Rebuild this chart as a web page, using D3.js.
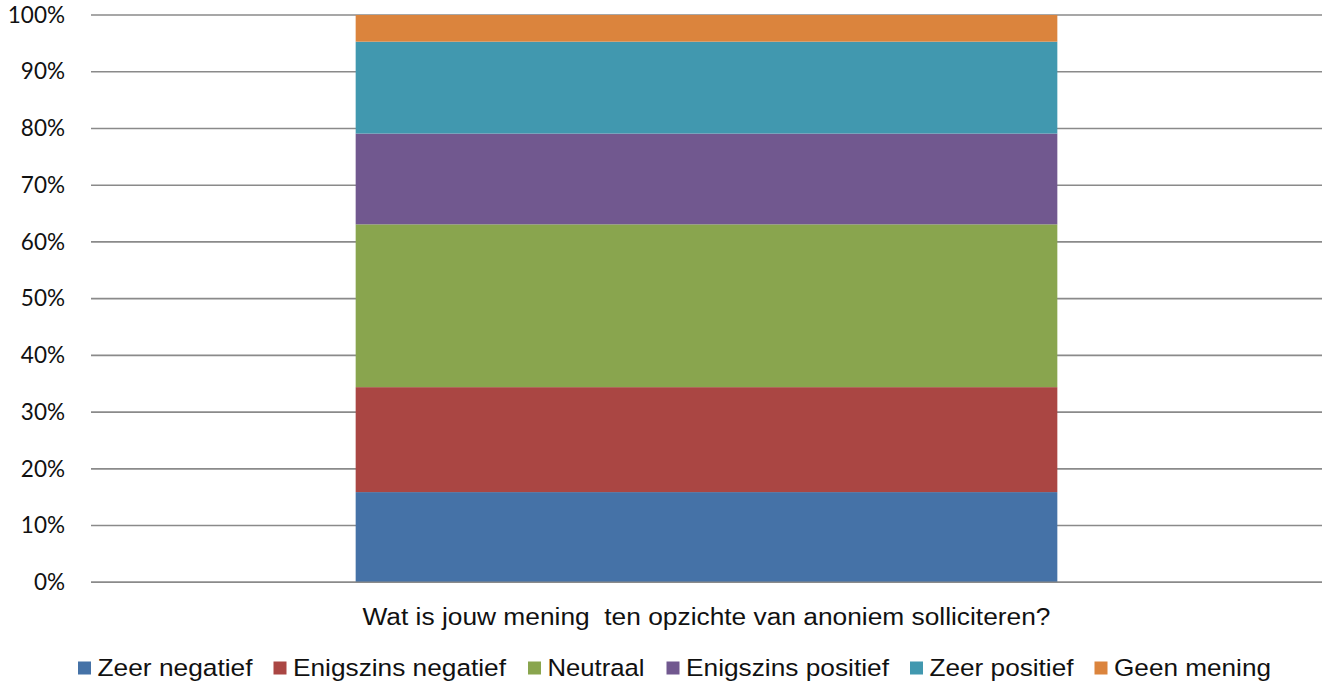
<!DOCTYPE html>
<html>
<head>
<meta charset="utf-8">
<script src="https://cdn.jsdelivr.net/npm/d3@7"></script>
<style>
  html, body { margin: 0; padding: 0; background: #fff; }
  svg { display: block; }
</style>
</head>
<body>
<svg id="chart" width="1324" height="684"></svg>
<script>
// Survey answers, share of respondents (%)
const categories = ["Wat is jouw mening\u00A0\u00A0ten opzichte van anoniem solliciteren?"];
const seriesNames = ["Zeer negatief", "Enigszins negatief", "Neutraal", "Enigszins positief", "Zeer positief", "Geen mening"];
const seriesValues = [15.9, 18.5, 28.7, 16.0, 16.2, 4.7];
const seriesColors = ["#4572A7", "#AA4643", "#89A54E", "#71588F", "#4198AF", "#DB843D"];
const tickValues = [0, 10, 20, 30, 40, 50, 60, 70, 80, 90, 100];

const svg = d3.select("#chart");
const margin = { left: 91, right: 2, top: 15, bottom: 101.7 };
const W = 1324, H = 684;
const plotW = W - margin.left - margin.right;
const plotH = H - margin.top - margin.bottom;

const g = svg.append("g").attr("transform", `translate(${margin.left},${margin.top})`);

const y = d3.scaleLinear().domain([0, 100]).range([plotH, 0]);
const x = d3.scaleBand().domain(categories).range([0, plotW]).paddingInner(0.43).paddingOuter(0.215);

// Gridlines
g.append("g")
  .selectAll("line")
  .data(tickValues)
  .join("line")
  .attr("x1", 0).attr("x2", plotW)
  .attr("y1", d => y(d)).attr("y2", d => y(d))
  .attr("stroke", "#8a8a8a")
  .attr("stroke-width", 1.6);

// Y axis labels
const yAxis = d3.axisLeft(y).tickValues(tickValues).tickFormat(d => d + "%").tickSize(0).tickPadding(26);
const ya = g.append("g").call(yAxis);
ya.select(".domain").remove();
ya.selectAll("text")
  .attr("font-family", "Lato, 'Open Sans', sans-serif")
  .attr("font-size", 22.5)
  .attr("fill", "#111");

// Stacked bar
const row = {};
seriesNames.forEach((n, i) => row[n] = seriesValues[i]);
const stack = d3.stack().keys(seriesNames)([row]);
const barX = x(categories[0]);
g.append("g")
  .selectAll("rect")
  .data(stack)
  .join("rect")
  .attr("x", barX)
  .attr("width", x.bandwidth())
  .attr("y", d => y(d[0][1]))
  .attr("height", d => y(d[0][0]) - y(d[0][1]))
  .attr("fill", (d, i) => seriesColors[i]);

// Baseline
g.append("line")
  .attr("x1", 0).attr("x2", plotW)
  .attr("y1", y(0)).attr("y2", y(0))
  .attr("stroke", "#8a8a8a").attr("stroke-width", 1.6);

// Category label
g.append("text")
  .attr("x", barX + x.bandwidth() / 2)
  .attr("y", 625 - margin.top)
  .attr("text-anchor", "middle")
  .attr("font-family", "'Liberation Sans', Arial, sans-serif")
  .attr("font-size", 23)
  .attr("fill", "#111")
  .attr("textLength", 688)
  .attr("lengthAdjust", "spacingAndGlyphs")
  .text(categories[0]);

// Legend
const legendSwatchX = [78, 273.5, 528, 666.5, 910, 1094.5];
const legendTextW = [155, 213, 97, 203, 144, 157];
const legend = svg.append("g");
seriesNames.forEach((n, i) => {
  const item = legend.append("g").attr("transform", `translate(${legendSwatchX[i]},0)`);
  item.append("rect").attr("x", 0).attr("y", 661.5).attr("width", 13).attr("height", 13).attr("fill", seriesColors[i]);
  item.append("text").attr("x", 19.5).attr("y", 676)
    .attr("font-family", "'Liberation Sans', Arial, sans-serif")
    .attr("font-size", 24.5).attr("fill", "#111")
    .attr("textLength", legendTextW[i])
    .attr("lengthAdjust", "spacingAndGlyphs")
    .text(n);
});
</script>
</body>
</html>
